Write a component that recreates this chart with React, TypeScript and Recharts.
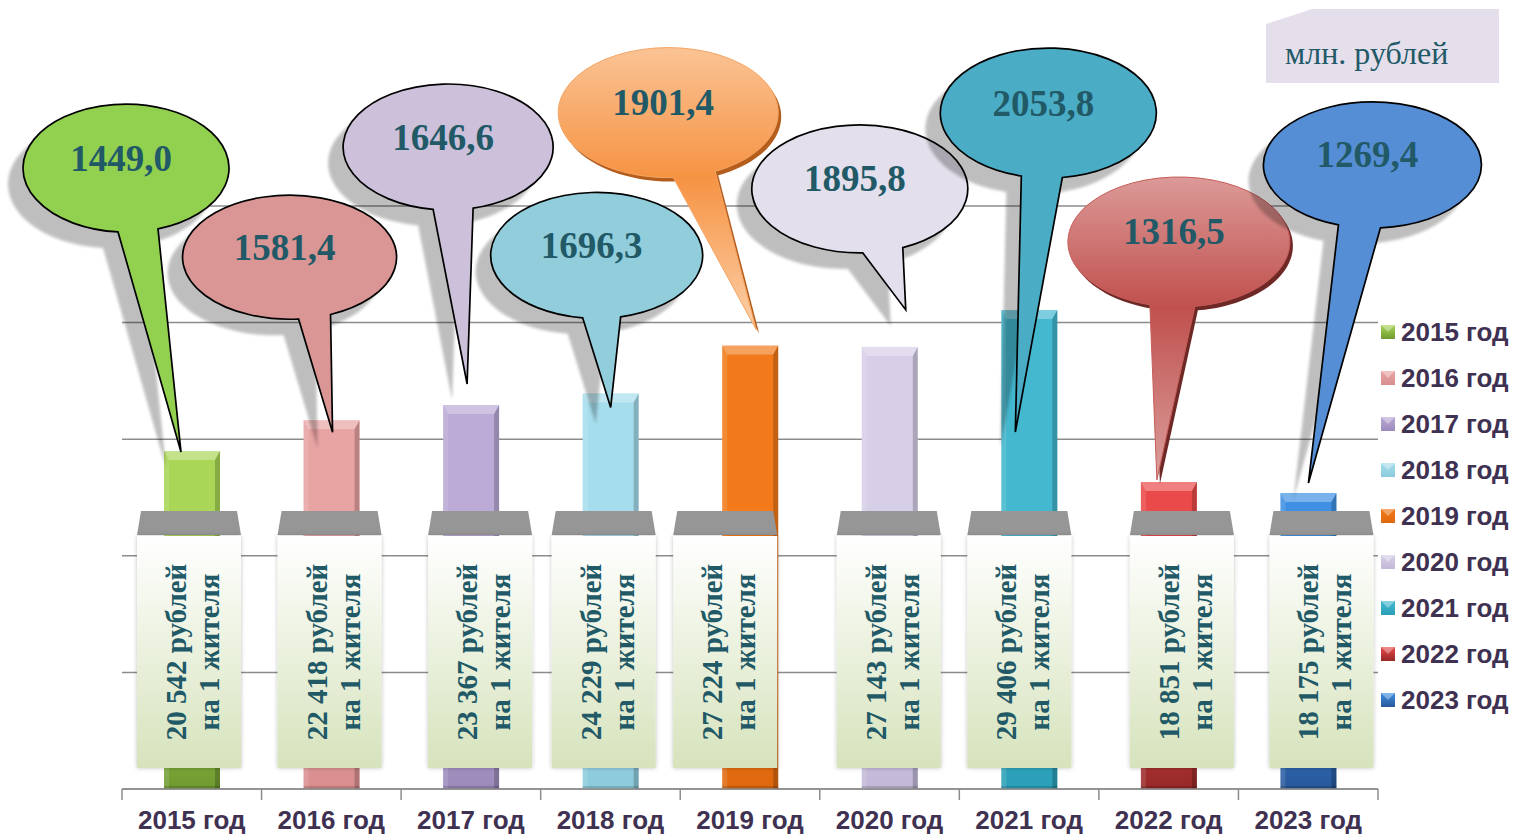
import React from 'react';
import { BarChart, Bar, XAxis, YAxis, CartesianGrid, LabelList } from 'recharts';

// data
const CATEGORIES = ['2015 год', '2016 год', '2017 год', '2018 год', '2019 год', '2020 год', '2021 год', '2022 год', '2023 год'];
const VALUES = [1449.0, 1581.4, 1646.6, 1696.3, 1901.4, 1895.8, 2053.8, 1316.5, 1269.4];
const VALUE_LABELS = ['1449,0', '1581,4', '1646,6', '1696,3', '1901,4', '1895,8', '2053,8', '1316,5', '1269,4'];
const PER_CAPITA = ['20 542', '22 418', '23 367', '24 229', '27 224', '27 143', '29 406', '18 851', '18 175'];
const Y_TICKS = [0, 500, 1000, 1500, 2000, 2500];

const data = CATEGORIES.map((name, i) => ({ name, value: VALUES[i], idx: i }));

// colours
const BAR_TOP = ['#a9d656', '#e8a3a3', '#bba9d6', '#a6dded', '#f27a1a', '#d7cfe8', '#44b8cf', '#ea4a4a', '#3f90e2'];
const BAR_BOTTOM = ['#6f9a30', '#d98e8e', '#9c8abb', '#8ccbdc', '#df680e', '#c2b8d8', '#2b9fb8', '#962828', '#27579a'];
const BUBBLE_FILL = ['#92d050', '#da9694', '#ccc0da', '#92cddc', 'url(#bub4)', '#e4dfec', '#4bacc6', 'url(#bub7)', '#558ed5'];
const BEVEL_BUBBLE = [false, false, false, false, true, false, false, true, false];
const BEVEL_EDGE = ['', '', '', '', '#b45d1c', '', '', '#6e2826', ''];
const BEVEL_LINE = ['', '', '', '', '#f5a463', '', '', '#c65c59', ''];

const TEAL = '#215967';
const AXIS_TEXT = '#3f3151';
const GRID = '#8c8c8c';
const SERIF = '"Liberation Serif", "Times New Roman", serif';
const SANS = '"Liberation Sans", Arial, sans-serif';

// layout
const W = 1515;
const H = 834;
const MARGIN = { top: 206, right: 137, bottom: 5, left: 122 };
const BAND = (W - MARGIN.left - MARGIN.right) / CATEGORIES.length;

// bubble geometry relative to bar top centre: tip, ellipse centre, radii, tail base x
const BUBBLES = [
  { tip: [-11, 1], c: [-66, -283], rx: 103, ry: 64, base: [-74, -34] },
  { tip: [1, 12], c: [-42, -163], rx: 107, ry: 62, base: [-33, -1] },
  { tip: [-4, -21], c: [-23, -258], rx: 105, ry: 63, base: [-38, 2] },
  { tip: [0, 14], c: [-14, -138], rx: 106, ry: 63, base: [-28, 10] },
  { tip: [6, -16], c: [-82, -233], rx: 110, ry: 65, base: [-77, -35] },
  { tip: [16, -37], c: [-30, -158], rx: 108, ry: 64, base: [-27, 13] },
  { tip: [-14, 122], c: [19, -197], rx: 108, ry: 65, base: [-8, 33] },
  { tip: [-12, -2], c: [10, -240], rx: 111, ry: 65, base: [-19, 26] },
  { tip: [0, -10], c: [64, -328], rx: 109, ry: 63, base: [30, 72] },
];
const PANEL_SHIFT = [-3, -2, 9, -7, -25, -1, -10, 13, 13];

const BarShape = (props: any) => {
  const { x, y, width, height, index } = props;
  const i = props.payload?.idx ?? index;
  const b = Math.min(9, height / 2);
  const s = 5;
  return (
    <g>
      <rect x={x} y={y} width={width} height={height} fill={`url(#barGrad${i})`} />
      <polygon points={`${x},${y} ${x + width},${y} ${x + width - s},${y + b} ${x + s},${y + b}`} fill="#ffffff" opacity={0.3} />
      <polygon points={`${x},${y} ${x + s},${y + b} ${x + s},${y + height} ${x},${y + height}`} fill="#ffffff" opacity={0.12} />
      <polygon points={`${x + width},${y} ${x + width - s},${y + b} ${x + width - s},${y + height} ${x + width},${y + height}`} fill="#000000" opacity={0.2} />
      <rect x={x} y={y + height - 3} width={width} height={3} fill="#000" opacity={0.15} />
    </g>
  );
};

const renderPanel = (props: any) => {
  const { x, y, width, height, index } = props;
  const i = index;
  const bottom = y + height;
  const pcx = x + width / 2 + PANEL_SHIFT[i];
  const mid = bottom - 137;
  return (
    <g key={`panel-${i}`}>
      <polygon
        points={`${pcx - 48},${bottom - 278} ${pcx + 48},${bottom - 278} ${pcx + 52},${bottom - 254} ${pcx - 52},${bottom - 254}`}
        fill="#969696"
      />
      <rect x={pcx - 52} y={bottom - 253} width={104} height={232} fill="url(#panelGrad)" filter="url(#panelShadow)" />
      <text
        x={pcx - 3}
        y={mid}
        transform={`rotate(-90 ${pcx - 3} ${mid})`}
        textAnchor="middle"
        fontFamily={SERIF}
        fontWeight="bold"
        fontSize={29}
        fill={TEAL}
      >
        {`${PER_CAPITA[i]} рублей`}
      </text>
      <text
        x={pcx + 30}
        y={mid}
        transform={`rotate(-90 ${pcx + 30} ${mid})`}
        textAnchor="middle"
        fontFamily={SERIF}
        fontWeight="bold"
        fontSize={29}
        fill={TEAL}
      >
        на 1 жителя
      </text>
    </g>
  );
};

const bubble = (props: any) => {
  const { x, y, width, index } = props;
  const i = index;
  const L = BUBBLES[i];
  const bcx = x + width / 2;
  const tipX = bcx + L.tip[0];
  const tipY = y + L.tip[1];
  const cx = bcx + L.c[0];
  const cy = y + L.c[1];
  const yOn = (bx: number) => cy + L.ry * Math.sqrt(Math.max(0, 1 - ((bx - cx) / L.rx) ** 2));
  const x1 = bcx + L.base[0];
  const x2 = bcx + L.base[1];
  const d = `M ${x2} ${yOn(x2)} A ${L.rx} ${L.ry} 0 1 0 ${x1} ${yOn(x1)} L ${tipX} ${tipY} Z`;
  const bevel = BEVEL_BUBBLE[i];
  return (
    <g key={`bubble-${i}`}>
      {bevel ? (
        <path d={d} transform="translate(3 4)" fill={BEVEL_EDGE[i]} />
      ) : (
        <path d={d} transform="translate(-15 16)" fill="#000" opacity={0.25} filter="url(#blur)" />
      )}
      <path
        d={d}
        fill={BUBBLE_FILL[i]}
        stroke={bevel ? BEVEL_LINE[i] : '#000'}
        strokeWidth={bevel ? 1 : 1.7}
        strokeLinejoin="miter"
      />
      <text
        x={cx - 5}
        y={cy - 10}
        textAnchor="middle"
        dominantBaseline="central"
        fontFamily={SERIF}
        fontWeight="bold"
        fontSize={37}
        fill={TEAL}
      >
        {VALUE_LABELS[i]}
      </text>
    </g>
  );
};

const renderBubbleFirst = (props: any) => (props.index === 2 ? bubble(props) : null);
const renderBubbleRest = (props: any) => (props.index === 2 ? null : bubble(props));

const AxisTick = (props: any) => {
  const { x, y, payload, index } = props;
  const half = BAND / 2;
  return (
    <g>
      <line x1={x - half} y1={y} x2={x - half} y2={y + 11} stroke={GRID} strokeWidth={1.5} />
      {index === CATEGORIES.length - 1 && (
        <line x1={x + half} y1={y} x2={x + half} y2={y + 11} stroke={GRID} strokeWidth={1.5} />
      )}
      <text x={x} y={y + 40} textAnchor="middle" fontFamily={SANS} fontWeight="bold" fontSize={26} fill={AXIS_TEXT}>
        {payload.value}
      </text>
    </g>
  );
};

const Overlay = () => (
  <svg width={W} height={H} style={{ position: 'absolute', left: 0, top: 0, pointerEvents: 'none' }}>
    <defs>
      {CATEGORIES.map((_, i) => (
        <linearGradient key={i} id={`legGrad${i}`} x1="0" y1="0" x2="0" y2="1">
          <stop offset="0" stopColor={BAR_TOP[i]} />
          <stop offset="1" stopColor={BAR_BOTTOM[i]} />
        </linearGradient>
      ))}
    </defs>
    <polygon points="1266,24 1312,9 1499,9 1499,83 1266,83" fill="#e5dfec" />
    <text x={1285} y={64} fontFamily={SERIF} fontSize={32} fill={TEAL}>
      млн. рублей
    </text>
    {CATEGORIES.map((name, i) => {
      const cy = 332 + i * 46;
      return (
        <g key={name}>
          <rect x={1381} y={cy - 7} width={14} height={14} fill={`url(#legGrad${i})`} />
          <polygon points={`${1381},${cy - 7} ${1395},${cy - 7} ${1388},${cy}`} fill="#fff" opacity={0.35} />
          <text x={1401} y={cy} dominantBaseline="central" fontFamily={SANS} fontWeight="bold" fontSize={26} fill={AXIS_TEXT}>
            {name}
          </text>
        </g>
      );
    })}
  </svg>
);

export default function App() {
  return (
    <div style={{ position: 'absolute', left: 0, top: 0, width: W, height: H, background: '#fff' }}>
      <BarChart width={W} height={H} data={data} margin={MARGIN} barSize={56}>
        <defs>
          {CATEGORIES.map((_, i) => (
            <linearGradient key={i} id={`barGrad${i}`} x1="0" y1="0" x2="0" y2="1">
              <stop offset="0" stopColor={BAR_TOP[i]} />
              <stop offset="0.6" stopColor={BAR_TOP[i]} />
              <stop offset="1" stopColor={BAR_BOTTOM[i]} />
            </linearGradient>
          ))}
          <linearGradient id="bub4" x1="0" y1="0" x2="0" y2="1">
            <stop offset="0" stopColor="#fac395" />
            <stop offset="0.46" stopColor="#f69343" />
            <stop offset="1" stopColor="#fcd0aa" />
          </linearGradient>
          <linearGradient id="bub7" x1="0" y1="0" x2="0" y2="1">
            <stop offset="0" stopColor="#dc9a98" />
            <stop offset="0.43" stopColor="#c0504d" />
            <stop offset="1" stopColor="#dba09e" />
          </linearGradient>
          <linearGradient id="panelGrad" x1="0" y1="0" x2="0" y2="1">
            <stop offset="0" stopColor="#ffffff" />
            <stop offset="1" stopColor="#d6e3bc" />
          </linearGradient>
          <filter id="blur" x="-20%" y="-20%" width="140%" height="140%">
            <feGaussianBlur stdDeviation="1.5" />
          </filter>
          <filter id="panelShadow" x="-20%" y="-10%" width="140%" height="120%">
            <feDropShadow dx="0" dy="0" stdDeviation="2" floodColor="#000" floodOpacity="0.25" />
          </filter>
        </defs>
        <CartesianGrid vertical={false} stroke={GRID} strokeWidth={1.5} />
        <YAxis hide domain={[0, 2500]} ticks={Y_TICKS} />
        <XAxis
          dataKey="name"
          height={40}
          interval={0}
          tickSize={0}
          tickMargin={0}
          tickLine={false}
          axisLine={{ stroke: GRID, strokeWidth: 1.5 }}
          tick={<AxisTick />}
        />
        <Bar dataKey="value" shape={<BarShape />} isAnimationActive={false}>
          <LabelList dataKey="value" content={renderPanel} />
          <LabelList dataKey="value" content={renderBubbleFirst} />
          <LabelList dataKey="value" content={renderBubbleRest} />
        </Bar>
      </BarChart>
      <Overlay />
    </div>
  );
}
